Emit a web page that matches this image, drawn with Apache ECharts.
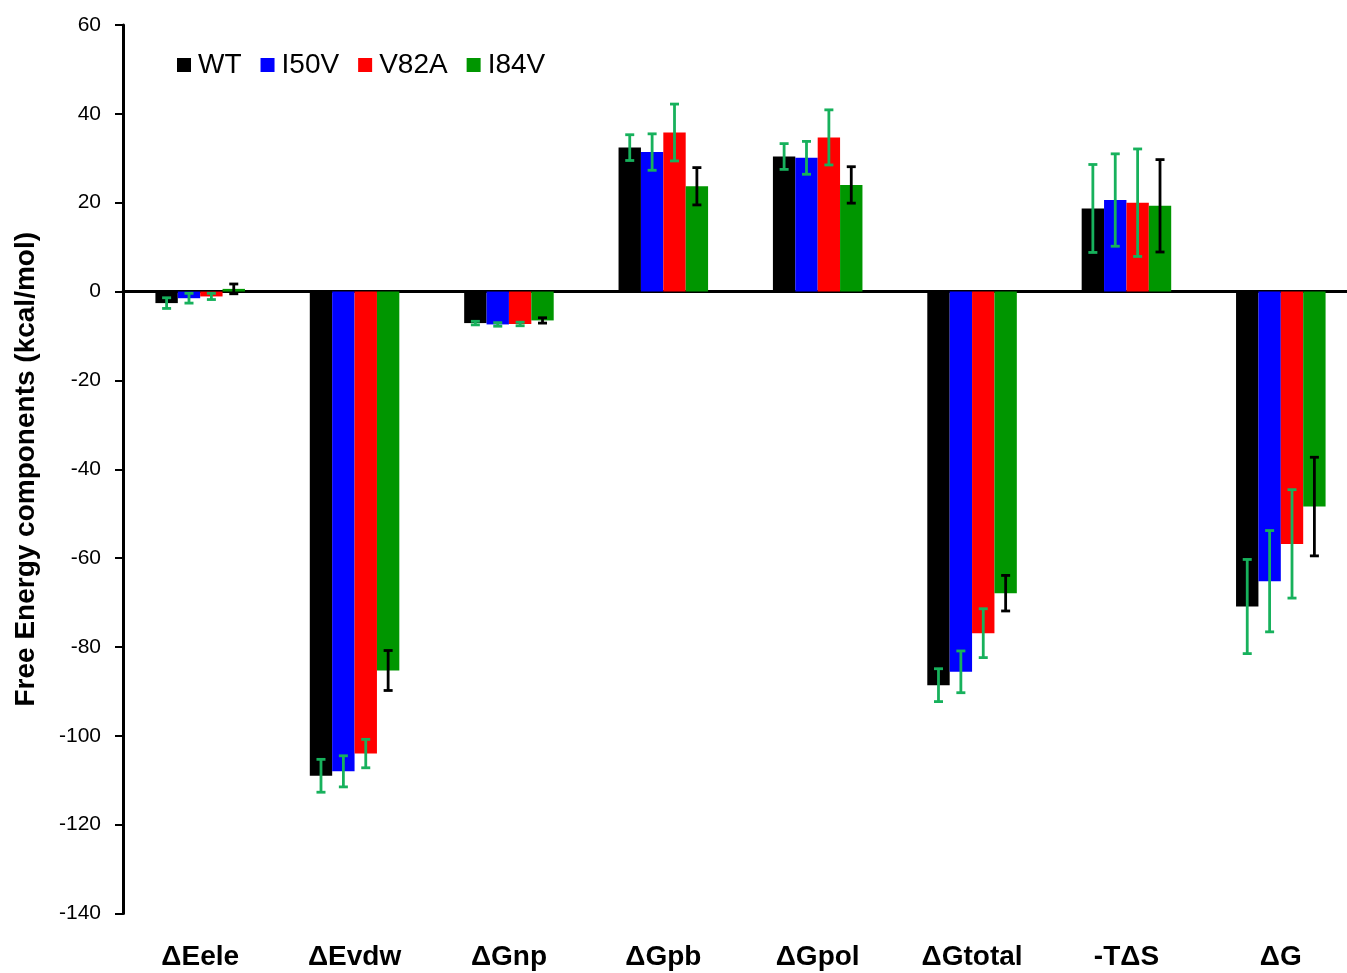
<!DOCTYPE html>
<html>
<head>
<meta charset="utf-8">
<script src="https://cdn.jsdelivr.net/npm/echarts@6/dist/echarts.min.js"></script>
<style>
  html, body { margin: 0; padding: 0; background: #fff; }
  #chart { width: 1347px; height: 973px; }
</style>
</head>
<body>
<div id="chart"></div>
<script>
// Energy components (kcal/mol) for wild type and three mutants
const categories = ['ΔEele', 'ΔEvdw', 'ΔGnp', 'ΔGpb', 'ΔGpol', 'ΔGtotal', '-TΔS', 'ΔG'];
const seriesNames = ['WT', 'I50V', 'V82A', 'I84V'];

const wtValues   = [-2.6, -109.0, -7.1, 32.4, 30.4, -88.6, 18.7, -70.9];
const i50vValues = [-1.5, -108.0, -7.4, 31.4, 30.1, -85.6, 20.6, -65.2];
const v82aValues = [-1.1, -104.0, -7.3, 35.8, 34.7, -76.9, 20.0, -56.8];
const i84vValues = [0.6, -85.3, -6.5, 23.7, 24.0, -67.9, 19.3, -48.4];

// Standard deviations
const wtErrors   = [1.2, 3.7, 0.4, 2.9, 2.9, 3.7, 9.9, 10.6];
const i50vErrors = [1.1, 3.5, 0.4, 4.1, 3.7, 4.7, 10.4, 11.4];
const v82aErrors = [0.7, 3.2, 0.4, 6.4, 6.2, 5.5, 12.1, 12.2];
const i84vErrors = [1.1, 4.5, 0.6, 4.2, 4.1, 4.0, 10.4, 11.1];

const yTicks = { min: -140, max: 60, interval: 20 };

const allValues = [wtValues, i50vValues, v82aValues, i84vValues];
const allErrors = [wtErrors, i50vErrors, v82aErrors, i84vErrors];
const barColors = ['#000000', '#0000ff', '#ff0000', '#009600'];
const errColors = ['#17b15c', '#17b15c', '#17b15c', '#000000'];

const CATEGORY_GAP = 0.42;
const FONT = '"Liberation Sans", Arial, sans-serif';

function errorSeries(idx) {
  const data = categories.map((c, i) => [i, allValues[idx][i], allErrors[idx][i]]);
  return {
    type: 'custom',
    name: seriesNames[idx] + ' sd',
    xAxisIndex: 0,
    yAxisIndex: 0,
    z: 5,
    silent: true,
    data: data,
    renderItem: function (params, api) {
      const ci = api.value(0);
      const v = api.value(1);
      const e = api.value(2);
      const band = api.size([1, 0])[0];
      const barW = band * (1 - CATEGORY_GAP) / 4;
      const center = api.coord([ci, v]);
      const x = center[0] + (idx - 1.5) * barW;
      const hi = api.coord([ci, v + e])[1];
      const lo = api.coord([ci, v - e])[1];
      const cap = 4.5;
      const style = { stroke: errColors[idx], lineWidth: 2.8, fill: null };
      return {
        type: 'group',
        children: [
          { type: 'line', shape: { x1: x, y1: hi, x2: x, y2: lo }, style: style },
          { type: 'line', shape: { x1: x - cap, y1: hi, x2: x + cap, y2: hi }, style: style },
          { type: 'line', shape: { x1: x - cap, y1: lo, x2: x + cap, y2: lo }, style: style }
        ]
      };
    }
  };
}

const barSeries = seriesNames.map((name, idx) => ({
  type: 'bar',
  name: name,
  xAxisIndex: 0,
  data: allValues[idx],
  barGap: '0%',
  barCategoryGap: (CATEGORY_GAP * 100) + '%',
  itemStyle: { color: barColors[idx] },
  z: 2
}));

const chart = echarts.init(document.getElementById('chart'), null, { renderer: 'canvas' });
chart.setOption({
  animation: false,
  backgroundColor: '#ffffff',
  grid: { left: 123, right: -11, top: 25, bottom: 59.5, containLabel: false, outerBoundsMode: 'none' },
  legend: {
    data: seriesNames,
    left: 172,
    top: 46,
    icon: 'rect',
    itemWidth: 14,
    itemHeight: 14,
    itemGap: 19,
    textStyle: { fontFamily: FONT, fontSize: 28, color: '#000', padding: [0, 0, 0, 2] }
  },
  xAxis: [
    {
      type: 'category',
      data: categories,
      position: 'bottom',
      axisLine: { show: false, onZero: false },
      axisTick: { show: false },
      splitLine: { show: false },
      axisLabel: {
        margin: 30,
        fontFamily: FONT,
        fontSize: 28,
        fontWeight: 'bold',
        color: '#000'
      }
    },
    {
      // zero baseline crossing the plot
      type: 'category',
      data: categories,
      position: 'bottom',
      axisLine: { show: true, onZero: true, lineStyle: { color: '#000', width: 3 } },
      axisTick: { show: false },
      axisLabel: { show: false },
      splitLine: { show: false }
    }
  ],
  yAxis: {
    type: 'value',
    min: yTicks.min,
    max: yTicks.max,
    interval: yTicks.interval,
    name: 'Free Energy components (kcal/mol)',
    nameLocation: 'middle',
    nameRotate: 90,
    nameGap: 83,
    nameTextStyle: { fontFamily: FONT, fontSize: 28, fontWeight: 'bold', color: '#000' },
    axisLine: { show: true, lineStyle: { color: '#000', width: 3 } },
    axisTick: { show: true, inside: false, length: 8, lineStyle: { color: '#000', width: 2 } },
    splitLine: { show: false },
    axisLabel: { margin: 22, fontFamily: FONT, fontSize: 21, color: '#000' }
  },
  series: barSeries.concat([0, 1, 2, 3].map(errorSeries))
});
</script>
</body>
</html>
